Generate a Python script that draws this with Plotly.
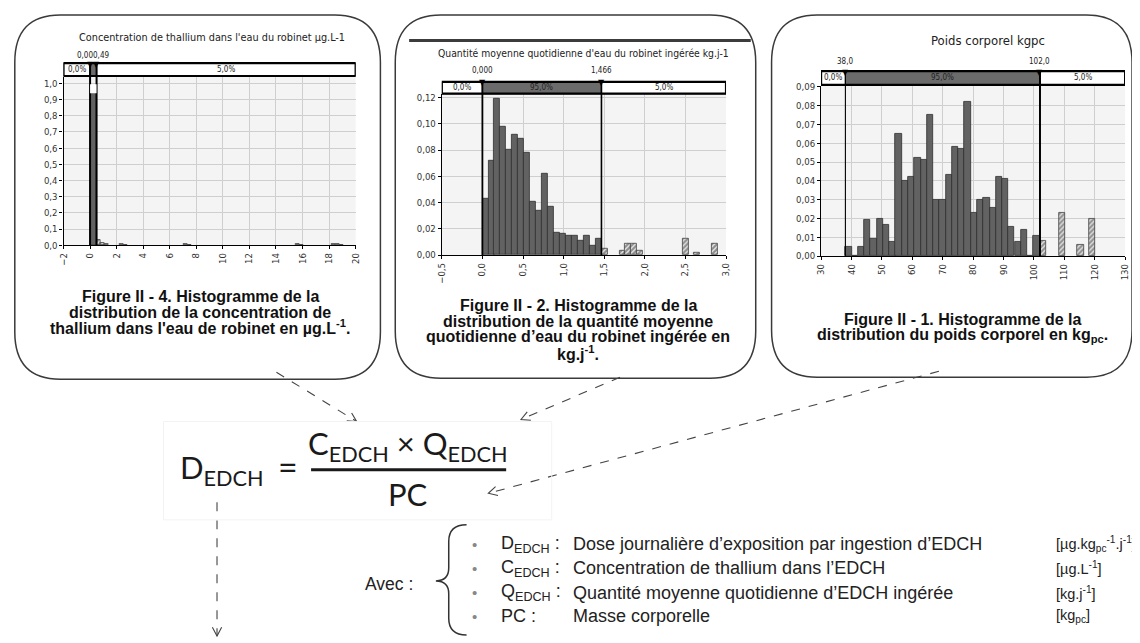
import math
import plotly.graph_objects as go

# page is 1140x643; the browser adds an 8px body margin, so the figure is 1132x635
OFF = 8
W, H = 1140 - OFF, 643 - OFF

# ---------------- DATA ----------------
# Panel 1 : concentration de thallium (µg/L)
conc_solid_x = [0.245]
conc_solid_y = [0.94]
conc_tail_x = [0.65, 0.95, 1.25, 2.35, 2.65, 7.2, 7.5, 15.6, 15.9, 18.3, 18.6, 18.9]
conc_tail_y = [0.035, 0.015, 0.008, 0.006, 0.005, 0.007, 0.004, 0.006, 0.004, 0.006, 0.006, 0.005]
conc_band_edges = [-2, 0, 0.49, 20]
conc_band_labels = ["0,0%", "", "5,0%"]
conc_marks = [0.0, 0.49]
conc_mark_text = "0,000,49"

# Panel 2 : quantité d'eau ingérée (kg/j)
qty_solid_x = [0.037, 0.110, 0.183, 0.257, 0.330, 0.403, 0.476, 0.550, 0.623, 0.696,
               0.770, 0.843, 0.916, 0.990, 1.063, 1.136, 1.210, 1.283, 1.356, 1.429]
qty_solid_y = [0.043, 0.072, 0.119, 0.098, 0.080, 0.092, 0.089, 0.078, 0.041, 0.034,
               0.062, 0.037, 0.017, 0.016, 0.015, 0.015, 0.011, 0.0145, 0.0075, 0.0125]
qty_tail_x = [1.503, 1.723, 1.796, 1.869, 1.943, 2.50, 2.64, 2.86]
qty_tail_y = [0.005, 0.003, 0.009, 0.009, 0.003, 0.0125, 0.0015, 0.009]
qty_band_edges = [-0.5, 0.0, 1.466, 3.0]
qty_band_labels = ["0,0%", "95,0%", "5,0%"]
qty_marks = [0.0, 1.466]
qty_mark_labels = ["0,000", "1,466"]

# Panel 3 : poids corporel (kg)
weight_solid_x = [39.0, 41.1, 43.2, 45.2, 47.3, 49.4, 51.4, 53.5, 55.5, 57.6, 59.7, 61.7,
                  63.8, 65.8, 67.9, 70.0, 72.0, 74.1, 76.1, 78.2, 80.3, 82.3, 84.4, 86.5,
                  88.5, 90.6, 92.6, 94.7, 96.8, 98.8, 100.9]
weight_solid_y = [0.005, 0.0, 0.005, 0.0195, 0.009, 0.020, 0.0165, 0.0075, 0.065, 0.040,
                  0.042, 0.052, 0.051, 0.075, 0.030, 0.030, 0.043, 0.058, 0.057, 0.082,
                  0.023, 0.030, 0.031, 0.0255, 0.042, 0.041, 0.0155, 0.0075, 0.014, 0.0,
                  0.011]
weight_tail_x = [103.0, 109.2, 115.4, 119.2]
weight_tail_y = [0.008, 0.023, 0.006, 0.020]
weight_band_edges = [30, 38, 102, 130]
weight_band_labels = ["0,0%", "95,0%", "5,0%"]
weight_marks = [38.0, 102.0]
weight_mark_labels = ["38,0", "102,0"]

titles = ["Concentration de thallium dans l'eau du robinet µg.L-1",
          "Quantité moyenne quotidienne d'eau du robinet ingérée kg.j-1",
          "Poids corporel kgpc"]

captions = [
    ["Figure II - 4. Histogramme de la", "distribution de la concentration de",
     "thallium dans l'eau de robinet en µg.L<sup>-1</sup>."],
    ["Figure II - 2. Histogramme de la", "distribution de la quantité moyenne",
     "quotidienne d’eau du robinet ingérée en", "kg.j<sup>-1</sup>."],
    ["Figure II - 1. Histogramme de la", "distribution du poids corporel en kg<sub>pc</sub>."],
]

legend_labels = ["D<sub>EDCH</sub> :", "C<sub>EDCH</sub> :", "Q<sub>EDCH</sub> :", "PC :"]
legend_desc = ["Dose journalière d’exposition par ingestion d’EDCH",
               "Concentration de thallium dans l’EDCH",
               "Quantité moyenne quotidienne d’EDCH ingérée",
               "Masse corporelle"]
legend_units = ["[µg.kg<sub>pc</sub><sup>-1</sup>.j<sup>-1</sup>]", "[µg.L<sup>-1</sup>]",
                "[kg.j<sup>-1</sup>]", "[kg<sub>pc</sub>]"]

# ---------------- HELPERS ----------------
def px(x):
    return (x - OFF) / W


def py(y):
    return 1 - (y - OFF) / H


NARROW = "Liberation Sans Narrow, DejaVu Sans Condensed, Liberation Sans, sans-serif"
ARIAL = "Liberation Sans, Arial, sans-serif"
CALIBRI = "Lato, Open Sans, sans-serif"

shapes = []
annotations = []


def ann(x, y, text, size, font=ARIAL, color="#222", xanchor="center", yanchor="middle",
        xref="paper", yref="paper", bold=False):
    if bold:
        text = "<b>" + text + "</b>"
    annotations.append(dict(
        x=px(x) if xref == "paper" else x, y=py(y) if yref == "paper" else y,
        xref=xref, yref=yref, text=text, showarrow=False,
        xanchor=xanchor, yanchor=yanchor,
        font=dict(family=font, size=size, color=color)))


def rbox(x0, y0, x1, y1, rx, ry):
    def p(x, y):
        return f"{px(x):.5f},{py(y):.5f}"
    path = (f"M {p(x0 + rx, y0)} L {p(x1 - rx, y0)} Q {p(x1, y0)} {p(x1, y0 + ry)} "
            f"L {p(x1, y1 - ry)} Q {p(x1, y1)} {p(x1 - rx, y1)} "
            f"L {p(x0 + rx, y1)} Q {p(x0, y1)} {p(x0, y1 - ry)} "
            f"L {p(x0, y0 + ry)} Q {p(x0, y0)} {p(x0 + rx, y0)} Z")
    shapes.append(dict(type="path", path=path, xref="paper", yref="paper",
                       line=dict(color="#3a3a3a", width=1.5), layer="below"))


def arrow(x0, y0, x1, y1, head=10, ang=28):
    shapes.append(dict(type="line", xref="paper", yref="paper",
                       x0=px(x0), y0=py(y0), x1=px(x1), y1=py(y1),
                       line=dict(color="#444", width=1.1, dash="dash")))
    dx, dy = x1 - x0, y1 - y0
    L = math.hypot(dx, dy)
    ux, uy = dx / L, dy / L
    pts = []
    for s in (1, -1):
        a = math.radians(ang) * s
        rx_ = ux * math.cos(a) - uy * math.sin(a)
        ry_ = ux * math.sin(a) + uy * math.cos(a)
        pts.append((x1 - head * rx_, y1 - head * ry_))
    path = (f"M {px(pts[0][0]):.5f},{py(pts[0][1]):.5f} L {px(x1):.5f},{py(y1):.5f} "
            f"L {px(pts[1][0]):.5f},{py(pts[1][1]):.5f}")
    shapes.append(dict(type="path", path=path, xref="paper", yref="paper",
                       line=dict(color="#444", width=1.1)))


# panel geometry (page pixels): plot area left, right, top, bottom ; band top, bottom
panels = [
    dict(ax="", l=58, r=353, t=73, b=244, bt=59, bb=72, yr=[0, 1.04], dt=0.1, yf=".1f",
         xr=[-2, 20], xt=list(range(-2, 21, 2)), xf="d",
         solid=(conc_solid_x, conc_solid_y, 0.49), tail=(conc_tail_x, conc_tail_y, 0.3),
         edges=conc_band_edges, labels=conc_band_labels, marks=conc_marks, mw=[2, 2],
         title_x=208, title_y=33, mark_y=51, tsize=10.8),
    dict(ax="2", l=440, r=727, t=90, b=254, bt=78, bb=90, yr=[0, 0.123], dt=0.02, yf=".2f",
         xr=[-0.5, 3.0], xt=[-0.5, 0, 0.5, 1.0, 1.5, 2.0, 2.5, 3.0], xf=".1f",
         solid=(qty_solid_x, qty_solid_y, 0.0733), tail=(qty_tail_x, qty_tail_y, 0.0733),
         edges=qty_band_edges, labels=qty_band_labels, marks=qty_marks, mw=[1.8, 1.6],
         title_x=583, title_y=49, mark_y=66, tsize=10.3),
    dict(ax="3", l=823, r=1130, t=82, b=255, bt=67, bb=81, yr=[0, 0.0905], dt=0.01, yf=".2f",
         xr=[30, 130], xt=list(range(30, 131, 10)), xf="d",
         solid=(weight_solid_x, weight_solid_y, 2.0645), tail=(weight_tail_x, weight_tail_y, 2.0645),
         edges=weight_band_edges, labels=weight_band_labels, marks=weight_marks, mw=[1.1, 2],
         title_x=992, title_y=36, mark_y=57, tsize=13),
]

fig = go.Figure()
layout = dict(width=W, height=H, margin=dict(l=0, r=0, t=0, b=0),
              paper_bgcolor="white", plot_bgcolor="#f4f4f4", showlegend=False,
              separators=", ", bargap=0)

for i, p in enumerate(panels):
    xa, ya = "x" + p["ax"], "y" + p["ax"]
    sx, sy, sw = p["solid"]
    tx, ty, tw = p["tail"]
    fig.add_trace(go.Bar(x=sx, y=sy, width=sw, xaxis=xa, yaxis=ya,
                         marker=dict(color="#626262", line=dict(color="#2e2e2e", width=0.8))))
    fig.add_trace(go.Bar(x=tx, y=ty, width=tw, xaxis=xa, yaxis=ya,
                         marker=dict(color="white", line=dict(color="#444", width=0.8),
                                     pattern=dict(shape="/", fgcolor="#333", bgcolor="#e6e6e6",
                                                  size=3.5, solidity=0.6))))
    axis_common = dict(showline=True, linecolor="black", linewidth=1.2, ticks="outside",
                       ticklen=3, tickcolor="black", gridcolor="#cfcfcf", zeroline=False,
                       tickfont=dict(family=NARROW, size=9.5, color="#333"))
    layout["xaxis" + p["ax"]] = dict(domain=[px(p["l"]), px(p["r"])], range=p["xr"],
                                     anchor=ya, tickvals=p["xt"], tickformat=p["xf"],
                                     tickangle=-90, **axis_common)
    ytv = [round(k * p["dt"], 3) for k in range(int(round(p["yr"][1] / p["dt"])) + 1)]
    layout["yaxis" + p["ax"]] = dict(domain=[py(p["b"]), py(p["t"])], range=p["yr"],
                                     anchor=xa, tickvals=ytv, tickformat=p["yf"],
                                     **axis_common)
    # percentage band
    e = p["edges"]
    for k in range(3):
        shapes.append(dict(type="rect", xref=xa, yref="paper", x0=e[k], x1=e[k + 1],
                           y0=py(p["bb"]), y1=py(p["bt"]),
                           fillcolor="#6b6b6b" if k == 1 else "white",
                           line=dict(color="black", width=1)))
        if p["labels"][k]:
            ann((e[k] + e[k + 1]) / 2, (p["bt"] + p["bb"]) / 2, p["labels"][k], 8,
                font=NARROW, color="#222", xref=xa)
    shapes.append(dict(type="rect", xref=xa, yref="paper", x0=e[0], x1=e[3],
                       y0=py(p["bb"]), y1=py(p["bt"]), line=dict(color="black", width=2.2)))
    # percentile lines + markers
    for m, lw in zip(p["marks"], p["mw"]):
        shapes.append(dict(type="line", xref=xa, yref="paper", x0=m, x1=m,
                           y0=py(p["b"]), y1=py(p["bt"]), line=dict(color="black", width=lw)))
        ann(m, p["bt"] + 1, "▼", 8, font="DejaVu Sans", color="black", xref=xa)
    ann(p["title_x"], p["title_y"], titles[i], p["tsize"], font=NARROW, color="#222")

# white gap above the main bar of panel 1, between the two percentile lines
shapes.append(dict(type="rect", xref="x", yref="y", x0=conc_marks[0], x1=conc_marks[1],
                   y0=conc_solid_y[0], y1=0.995, fillcolor="white", line=dict(width=0)))

# percentile value labels
ann(0.2, panels[0]["mark_y"], conc_mark_text, 8, font=NARROW, xref="x")
for m, t in zip(qty_marks, qty_mark_labels):
    ann(m, panels[1]["mark_y"], t, 8, font=NARROW, xref="x2")
for m, t in zip(weight_marks, weight_mark_labels):
    ann(m, panels[2]["mark_y"], t, 8, font=NARROW, xref="x3")

# rounded boxes
rbox(8.8, 10, 378, 380, 46, 48)
rbox(393, 10, 757, 379, 46, 48)
rbox(773, 10, 1137, 378, 46, 48)
shapes.append(dict(type="line", xref="paper", yref="paper", x0=px(407), x1=px(752),
                   y0=py(36), y1=py(36), line=dict(color="#3c3c3c", width=3)))

# captions
cap_pos = [(196, [296, 312, 327]), (578, [305, 321, 337, 353]), (966, [319, 336])]
for (cx, ys), lines in zip(cap_pos, captions):
    for yy, line in zip(ys, lines):
        ann(cx, yy, line, 16, font=ARIAL, color="#111", bold=True)

# arrows
arrow(273, 373, 354, 423)
arrow(620, 378, 520, 421)
arrow(942, 372, 487, 496)
arrow(213, 505, 213, 641)

# formula
shapes.append(dict(type="rect", xref="paper", yref="paper", x0=px(159), x1=px(551),
                   y0=py(523), y1=py(423), line=dict(color="#f3f3f3", width=1)))
ann(262, 472, "D<sub>EDCH</sub>", 31, font=CALIBRI, color="#1a1a1a", xanchor="right")
ann(285, 469, "=", 34, font=CALIBRI, color="#1a1a1a")
ann(406, 447, "C<sub>EDCH</sub> × Q<sub>EDCH</sub>", 31, font=CALIBRI, color="#1a1a1a")
shapes.append(dict(type="line", xref="paper", yref="paper", x0=px(308), x1=px(505),
                   y0=py(472), y1=py(472), line=dict(color="#1a1a1a", width=3)))
ann(406, 497, "PC", 31, font=CALIBRI, color="#1a1a1a")

# legend
ann(413, 588, "Avec :", 17.5, font=ARIAL, xanchor="right")
brace = [(465, 528), (447, 528), (447, 545), (447, 572), (447, 585), (434, 585),
         (447, 585), (447, 598), (447, 623), (447, 640), (465, 640)]
bp = [f"{px(a):.5f},{py(b):.5f}" for a, b in brace]
shapes.append(dict(type="path", xref="paper", yref="paper",
                   path=(f"M {bp[0]} Q {bp[1]} {bp[2]} L {bp[3]} Q {bp[4]} {bp[5]} "
                         f"Q {bp[6]} {bp[7]} L {bp[8]} Q {bp[9]} {bp[10]}"),
                   line=dict(color="#333", width=1.5)))
row_y = [548, 572, 597, 621]
for yy, lab, desc, unit in zip(row_y, legend_labels, legend_desc, legend_units):
    ann(473, yy, "•", 15, font=ARIAL, color="#888")
    ann(498, yy, lab, 18, font=ARIAL, xanchor="left")
    ann(570, yy, desc, 18, font=ARIAL, xanchor="left")
    ann(1058, yy, unit, 14.5, font=ARIAL, xanchor="left")

layout["shapes"] = shapes
layout["annotations"] = annotations
fig.update_layout(**layout)
fig.write_html("out.html")
